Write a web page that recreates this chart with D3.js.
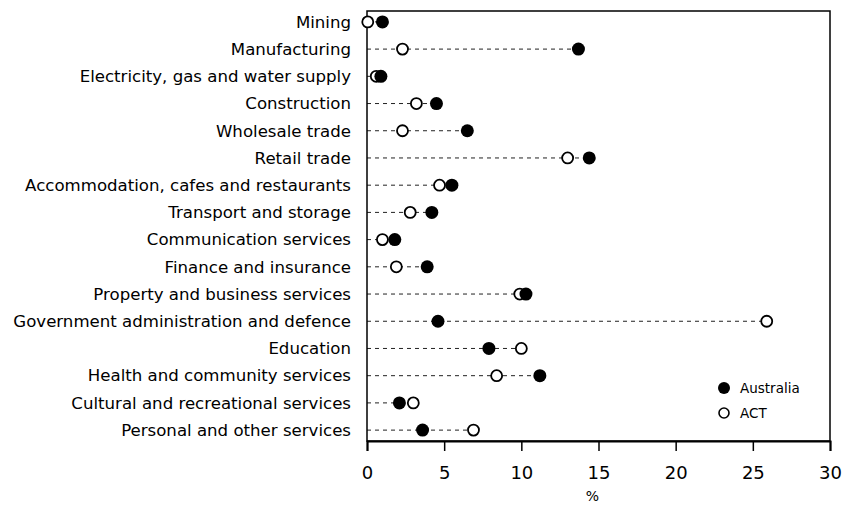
<!DOCTYPE html>
<html>
<head>
<meta charset="utf-8">
<script src="https://cdn.jsdelivr.net/npm/d3@7.9.0/dist/d3.min.js"></script>
<style>
  body { margin: 0; background: #fff; }
  svg { display: block; font-family: "DejaVu Sans", sans-serif; }
</style>
</head>
<body>
<div id="chart"></div>
<script>
// industry rows, top to bottom
const industries = [
  'Mining',
  'Manufacturing',
  'Electricity, gas and water supply',
  'Construction',
  'Wholesale trade',
  'Retail trade',
  'Accommodation, cafes and restaurants',
  'Transport and storage',
  'Communication services',
  'Finance and insurance',
  'Property and business services',
  'Government administration and defence',
  'Education',
  'Health and community services',
  'Cultural and recreational services',
  'Personal and other services'
];

// share of employment, %
const australia = [1.0, 13.7, 0.9, 4.5, 6.5, 14.4, 5.5, 4.2, 1.8, 3.9, 10.3, 4.6, 7.9, 11.2, 2.1, 3.6];
const act       = [0.05, 2.3, 0.6, 3.2, 2.3, 13.0, 4.7, 2.8, 1.0, 1.9, 9.9, 25.9, 10.0, 8.4, 3.0, 6.9];

const xTicks = [0, 5, 10, 15, 20, 25, 30];

const width = 848, height = 508;
const margin = { top: 11, right: 18, bottom: 67, left: 367 };

const svg = d3.select('#chart').append('svg')
  .attr('width', width)
  .attr('height', height);

const xScale = d3.scaleLinear()
  .domain([0, 30])
  .range([margin.left, width - margin.right]);

const yScale = d3.scalePoint()
  .domain(industries)
  .range([margin.top, height - margin.bottom])
  .padding(0.4);

const rows = industries.map((name, i) => ({ name, aus: australia[i], act: act[i] }));

// leader lines
svg.append('g')
  .selectAll('line')
  .data(rows)
  .join('line')
  .attr('x1', xScale(0))
  .attr('x2', (d) => xScale(Math.max(d.aus, d.act)))
  .attr('y1', (d) => yScale(d.name))
  .attr('y2', (d) => yScale(d.name))
  .attr('stroke', '#222')
  .attr('stroke-width', 1)
  .attr('stroke-dasharray', '4,4');

// frame
svg.append('rect')
  .attr('x', xScale(0))
  .attr('y', margin.top)
  .attr('width', xScale(30) - xScale(0))
  .attr('height', height - margin.bottom - margin.top)
  .attr('fill', 'none')
  .attr('stroke', '#000')
  .attr('stroke-width', 1.5);

// x axis
const xAxis = svg.append('g')
  .attr('transform', `translate(0, ${height - margin.bottom})`)
  .call(d3.axisBottom(xScale).tickValues(xTicks).tickSize(10).tickPadding(15));
xAxis.select('.domain').attr('stroke-width', 2);
xAxis.selectAll('.tick line').attr('stroke-width', 1.5);
xAxis.selectAll('.tick text')
  .attr('font-size', 18)
  .attr('font-family', '"DejaVu Sans", sans-serif')
  .attr('fill', '#000');

svg.append('text')
  .attr('x', xScale(15) - 6)
  .attr('y', 501)
  .attr('font-size', 14)
  .attr('text-anchor', 'middle')
  .text('%');

// category labels
svg.append('g')
  .selectAll('text')
  .data(industries)
  .join('text')
  .attr('x', margin.left - 16)
  .attr('y', (d) => yScale(d))
  .attr('dy', '0.35em')
  .attr('text-anchor', 'end')
  .attr('font-size', 16.6)
  .attr('fill', '#000')
  .text((d) => d);

// ACT dots (open)
svg.append('g')
  .selectAll('circle')
  .data(rows)
  .join('circle')
  .attr('cx', (d) => xScale(d.act))
  .attr('cy', (d) => yScale(d.name))
  .attr('r', 5.5)
  .attr('fill', '#fff')
  .attr('stroke', '#000')
  .attr('stroke-width', 1.8);

// Australia dots (filled)
svg.append('g')
  .selectAll('circle')
  .data(rows)
  .join('circle')
  .attr('cx', (d) => xScale(d.aus))
  .attr('cy', (d) => yScale(d.name))
  .attr('r', 6.5)
  .attr('fill', '#000');

// legend
const legend = svg.append('g').attr('transform', 'translate(724, 388)');
legend.append('circle').attr('r', 6).attr('fill', '#000');
legend.append('text').attr('x', 16).attr('dy', '0.35em').attr('font-size', 13.5).text('Australia');
legend.append('circle').attr('cy', 25).attr('r', 5).attr('fill', '#fff').attr('stroke', '#000').attr('stroke-width', 1.6);
legend.append('text').attr('x', 16).attr('y', 25).attr('dy', '0.35em').attr('font-size', 13.5).text('ACT');
</script>
</body>
</html>
